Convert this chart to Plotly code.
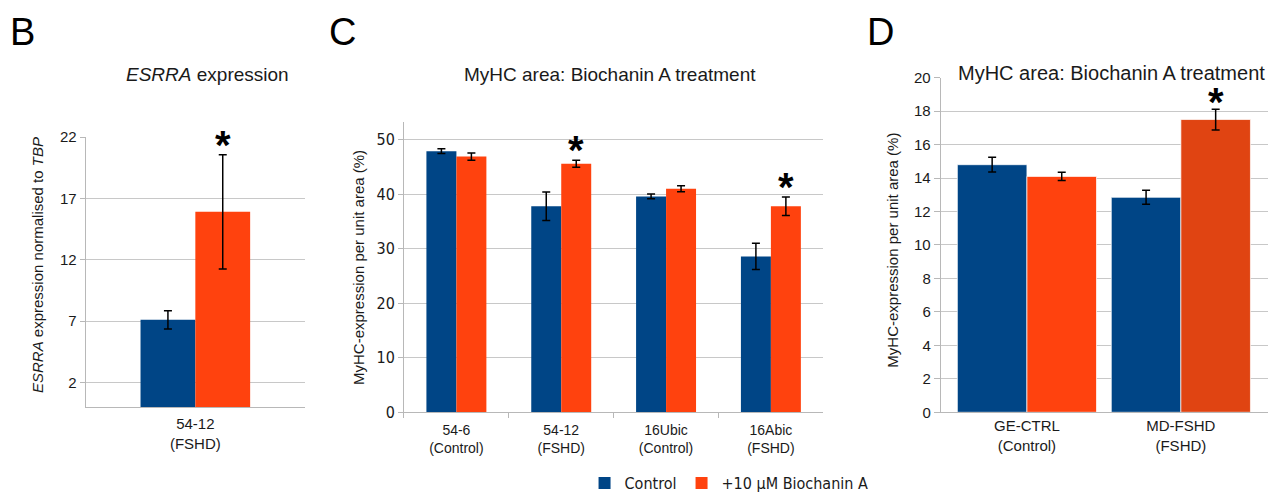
import plotly.graph_objects as go

BLUE = "#004586"
ORANGE = "#ff420e"
ORANGE_DARK = "#e04412"
GRID = "#c8c8c8"
AXIS = "#b8b8b8"
TEXT = "#1a1a1a"
FONT = "Liberation Sans, Arial, sans-serif"
NARROW = "Liberation Sans Narrow, DejaVu Sans Condensed, Arial Narrow, sans-serif"

# panel B: ESRRA expression
b_cats = ["54-12<br>(FSHD)"]
b_ctrl = [7.1]
b_ctrl_err = [0.75]
b_bio = [15.9]
b_bio_err = [4.65]

# panel C: MyHC area, four lines
c_cats = ["54-6<br>(Control)", "54-12<br>(FSHD)", "16Ubic<br>(Control)", "16Abic<br>(FSHD)"]
c_ctrl = [47.9, 37.8, 39.6, 28.6]
c_ctrl_err = [0.45, 2.6, 0.45, 2.4]
c_bio = [46.9, 45.6, 41.0, 37.8]
c_bio_err = [0.65, 0.65, 0.55, 1.7]
c_sig = [False, True, False, True]

# panel D: MyHC area, primary lines
d_cats = ["GE-CTRL<br>(Control)", "MD-FSHD<br>(FSHD)"]
d_ctrl = [14.8, 12.85]
d_ctrl_err = [0.44, 0.42]
d_bio = [14.1, 17.5]
d_bio_err = [0.25, 0.62]
d_sig = [False, True]

ERR = dict(type="data", color="black", thickness=1.5, width=4)

fig = go.Figure()


def add_pair(cats, ctrl, ctrl_err, bio, bio_err, w, xa, ya, legend, bio_colors, line=None):
    fig.add_trace(go.Bar(
        x=cats, y=ctrl, name="Control", marker_color=BLUE,
        marker_line=line or dict(width=0),
        error_y=dict(array=ctrl_err, **ERR),
        width=w, offset=-w, xaxis=xa, yaxis=ya, showlegend=legend,
    ))
    fig.add_trace(go.Bar(
        x=cats, y=bio, name="+10 µM Biochanin A", marker_color=bio_colors,
        marker_line=line or dict(width=0),
        error_y=dict(array=bio_err, **ERR),
        width=w, offset=0, xaxis=xa, yaxis=ya, showlegend=legend,
    ))


add_pair(b_cats, b_ctrl, b_ctrl_err, b_bio, b_bio_err, 0.25, "x", "y", False, ORANGE)
add_pair(c_cats, c_ctrl, c_ctrl_err, c_bio, c_bio_err, 0.286, "x2", "y2", True, ORANGE)
add_pair(d_cats, d_ctrl, d_ctrl_err, d_bio, d_bio_err, 0.452, "x3", "y3", False,
         [ORANGE, ORANGE_DARK], line=dict(width=1, color="rgba(255,255,255,0.7)"))

xbase = dict(type="category", showline=True, linecolor=AXIS, linewidth=1,
             showgrid=False, zeroline=False,
             tickfont=dict(family=FONT, size=15, color=TEXT))
ybase = dict(showline=True, linecolor=AXIS, linewidth=1, showgrid=True,
             gridcolor=GRID, gridwidth=1, zeroline=False, ticks="outside",
             ticklen=5, tickcolor=AXIS,
             tickfont=dict(family=FONT, size=15, color=TEXT))

fig.update_layout(
    width=1268, height=493,
    margin=dict(l=0, r=0, t=0, b=0, autoexpand=False),
    paper_bgcolor="white", plot_bgcolor="white",
    font=dict(family=FONT, color=TEXT, size=14),
    barmode="group",
    xaxis=dict(xbase, domain=[0.0676, 0.2405], anchor="y", range=[-0.5, 0.5], ticks="",
               ticklabelstandoff=3),
    yaxis=dict(ybase, domain=[0.1744, 0.7221], anchor="x", range=[0, 22],
               tickvals=[2, 7, 12, 17, 22]),
    xaxis2=dict(xbase, domain=[0.3186, 0.6493], anchor="y2", range=[-0.5, 3.5],
                ticks="outside", tickson="boundaries", ticklen=5, tickcolor=AXIS,
                ticklabelstandoff=5,
                tickfont=dict(family=FONT, size=14, color=TEXT)),
    yaxis2=dict(ybase, domain=[0.1637, 0.7531], anchor="x2", range=[0, 53.3],
                tickvals=[0, 10, 20, 30, 40, 50],
                tickfont=dict(family=NARROW, size=16, color=TEXT)),
    xaxis3=dict(xbase, domain=[0.7419, 1.0], anchor="y3", range=[-0.56, 1.566], ticks=""),
    yaxis3=dict(ybase, domain=[0.1637, 0.8424], anchor="x3", range=[0, 20],
                tickvals=list(range(0, 21, 2)), ticklen=6, showgrid=False,
                minor=dict(tickvals=list(range(2, 19, 2)), showgrid=True,
                           gridcolor=GRID, gridwidth=1, ticks="")),
    legend=dict(orientation="h", x=0.461, xanchor="left", y=0.02, yanchor="middle",
                font=dict(family=NARROW, size=16, color=TEXT),
                itemwidth=30, bgcolor="rgba(0,0,0,0)"),
)

ann = []
# panel letters
for letter, px in [("B", 8), ("C", 327), ("D", 865)]:
    ann.append(dict(text=letter, xref="paper", yref="paper", x=px / 1268, y=0.936,
                    xanchor="left", yanchor="middle", showarrow=False,
                    font=dict(family=FONT, size=38, color="black")))


def label(text, x, y, size, angle=0):
    ann.append(dict(text=text, xref="paper", yref="paper", x=x, y=y,
                    xanchor="center", yanchor="middle", textangle=angle,
                    showarrow=False, font=dict(size=size)))


# titles
label("<i>ESRRA</i> expression", 0.164, 0.848, 19)
label("MyHC area: Biochanin A treatment", 0.481, 0.848, 19)
label("MyHC area: Biochanin A treatment", 0.8767, 0.8525, 20)
# axis titles
label("<i>ESRRA</i> expression normalised to <i>TBP</i>", 0.030, 0.4625, 15, -90)
label("MyHC-expression per unit area (%)", 0.2823, 0.4584, 15, -90)
label("MyHC-expression per unit area (%)", 0.7032, 0.4929, 15, -90)


# significance asterisks above the treated bar
def stars(vals, errs, sig, w, xa, ya, shift=-14):
    for i, (v, e, s) in enumerate(zip(vals, errs, sig)):
        if s:
            ann.append(dict(text="<b>*</b>", x=i + w / 2, y=v + e, xref=xa, yref=ya,
                            showarrow=False, yanchor="bottom", yshift=shift,
                            font=dict(family=FONT, size=40, color="black")))


stars(b_bio, b_bio_err, [True], 0.25, "x", "y")
stars(c_bio, c_bio_err, c_sig, 0.286, "x2", "y2")
stars(d_bio, d_bio_err, d_sig, 0.452, "x3", "y3", shift=-17)

fig.update_layout(annotations=ann)
fig.write_html("out.html", config={"displayModeBar": False},
               post_script="document.body.style.margin='0';")
